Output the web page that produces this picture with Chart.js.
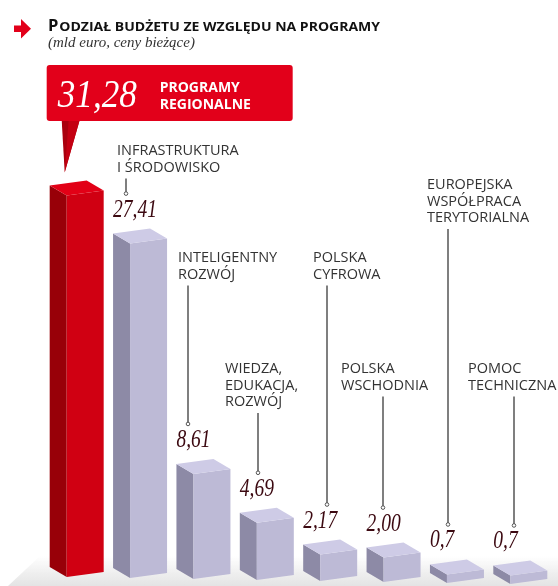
<!DOCTYPE html>
<html><head><meta charset="utf-8">
<script src="https://cdn.jsdelivr.net/npm/chart.js@4/dist/chart.umd.min.js"></script>
<style>html,body{margin:0;padding:0;background:#fff;overflow:hidden}</style>
</head><body>
<canvas id="c" width="558" height="586" style="width:558px;height:586px;display:block"></canvas>
<script>
// ---- data ----
const categories = [
  ["PROGRAMY","REGIONALNE"],
  ["INFRASTRUKTURA","I ŚRODOWISKO"],
  ["INTELIGENTNY","ROZWÓJ"],
  ["WIEDZA,","EDUKACJA,","ROZWÓJ"],
  ["POLSKA","CYFROWA"],
  ["POLSKA","WSCHODNIA"],
  ["EUROPEJSKA","WSPÓŁPRACA","TERYTORIALNA"],
  ["POMOC","TECHNICZNA"]
];
const values = [31.28, 27.41, 8.61, 4.69, 2.17, 2.00, 0.7, 0.7];
const valueLabels = ["31,28","27,41","8,61","4,69","2,17","2,00","0,7","0,7"];
const titleText = "Podział budżetu ze względu na programy";
const subtitleText = "(mld euro, ceny bieżące)";

// ---- layout (annotation positions, not data) ----
const labelX        = [0, 117, 178, 225, 313, 341, 427, 468];
const labelBaseline = [0, 155, 262, 373, 262, 373, 189, 373];
const leaderX       = [0, 126, 188, 258, 327, 383, 448, 514];

// ---- styles ----
const redFaces  = {front:"rgb(208,0,18)", side:"rgb(152,0,8)", top:"rgb(226,0,22)"};
const grayFaces = {front:"rgb(189,186,214)", side:"rgb(141,138,166)", top:"rgb(206,203,230)"};

function poly(ctx, pts, fill){
  ctx.beginPath(); ctx.moveTo(pts[0][0],pts[0][1]);
  for(let k=1;k<pts.length;k++) ctx.lineTo(pts[k][0],pts[k][1]);
  ctx.closePath(); ctx.fillStyle=fill; ctx.fill();
}
function condensedText(ctx, txt, x, y, sx){
  ctx.save(); ctx.translate(x,y); ctx.scale(sx,1); ctx.fillText(txt,0,0); ctx.restore();
}

const boxPlugin = {
  id:'box3d',
  beforeDatasetsDraw(chart){
    const ctx = chart.ctx;
    ctx.save();
    const g = ctx.createLinearGradient(0,556,0,586);
    g.addColorStop(0,'rgba(150,150,150,0)');
    g.addColorStop(0.6,'rgba(150,150,150,0.16)');
    g.addColorStop(1,'rgba(150,150,150,0.26)');
    ctx.beginPath();
    ctx.moveTo(40,556); ctx.lineTo(558,556); ctx.lineTo(558,586); ctx.lineTo(8,586); ctx.closePath();
    ctx.fillStyle=g; ctx.fill();
    ctx.restore();
  },
  afterDatasetsDraw(chart){
    const ctx = chart.ctx;
    const meta = chart.getDatasetMeta(0);
    const geo = [];
    meta.data.forEach((el,i)=>{
      const {x,y,base,width} = el.getProps(['x','y','base','width'],true);
      const drift = i*1.0;
      const left = x - width/2;
      const s = width*0.315, fw = width - s;
      const fx = left + s, fy = y + drift, by = base + drift;
      const c = i===0 ? redFaces : grayFaces;
      poly(ctx, [[fx-s,fy-10],[fx,fy],[fx,by],[fx-s,by-10]], c.side);
      poly(ctx, [[fx,fy],[fx+fw,fy-5],[fx+fw,by-5],[fx,by]], c.front);
      poly(ctx, [[fx-s,fy-10],[fx-s+fw,fy-15],[fx+fw,fy-5],[fx,fy]], c.top);
      geo.push({left, fy});
    });

    ctx.save();
    ctx.textBaseline='alphabetic';
    for(let i=1;i<values.length;i++){
      const gg = geo[i];
      const vb = gg.fy - 27;
      ctx.fillStyle='#3c0911';
      ctx.font='italic 25px "Liberation Serif"';
      condensedText(ctx, valueLabels[i], gg.left, vb, 0.78);
      ctx.fillStyle='#333';
      ctx.font='14.5px "Open Sans"';
      const lines = categories[i];
      lines.forEach((t,k)=>ctx.fillText(t, labelX[i], labelBaseline[i]+k*16.5));
      const lastB = labelBaseline[i] + (lines.length-1)*16.5;
      const y0 = lastB + 7, y1 = vb - 24;
      ctx.strokeStyle='#555'; ctx.lineWidth=1.5;
      ctx.beginPath(); ctx.moveTo(leaderX[i], y0); ctx.lineTo(leaderX[i], y1); ctx.stroke();
      ctx.beginPath(); ctx.arc(leaderX[i], y1+1, 1.8, 0, Math.PI*2);
      ctx.fillStyle='#fff'; ctx.fill(); ctx.lineWidth=1; ctx.stroke();
    }
    ctx.restore();

    // callout for first bar
    ctx.save();
    const b0 = geo[0];
    const cx0 = b0.left - 3, cy0 = 65, cw = 246, ch = 56;
    poly(ctx, [[cx0+15,cy0+ch-1],[cx0+33,cy0+ch-1],[b0.left+15, b0.fy-23]], 'rgb(170,0,14)');
    poly(ctx, [[cx0+22,cy0+ch-1],[cx0+33,cy0+ch-1],[b0.left+15, b0.fy-23]], 'rgb(196,0,18)');
    ctx.beginPath();
    if (ctx.roundRect) ctx.roundRect(cx0,cy0,cw,ch,3); else ctx.rect(cx0,cy0,cw,ch);
    ctx.fillStyle='rgb(226,0,26)'; ctx.fill();
    ctx.fillStyle='#fff';
    ctx.font='italic 40px "Liberation Serif"';
    condensedText(ctx, valueLabels[0], cx0+11, cy0+42, 0.88);
    ctx.font='bold 14px "Open Sans"';
    ctx.fillText(categories[0][0], cx0+113, cy0+27);
    ctx.fillText(categories[0][1], cx0+113, cy0+44);
    ctx.restore();

    // title
    ctx.save();
    poly(ctx, [[14,25.5],[21,25.5],[21,19],[31,28.7],[21,38.5],[21,32],[14,32]], 'rgb(226,0,26)');
    ctx.fillStyle='#111';
    const up = titleText.toUpperCase();
    ctx.font='bold 16.5px "Open Sans"';
    ctx.fillText(up[0], 48, 31);
    const w0 = ctx.measureText(up[0]).width;
    ctx.font='bold 13px "Open Sans"';
    const rest = up.slice(1);
    const rw = ctx.measureText(rest).width;
    const target = 380 - 48 - w0 - 1;
    condensedText(ctx, rest, 48 + w0 + 1, 31, target/rw);
    ctx.fillStyle='#333';
    ctx.font='italic 15px "Liberation Serif"';
    ctx.fillText(subtitleText, 48, 47);
    ctx.restore();
  }
};

new Chart(document.getElementById('c'), {
  type:'bar',
  data:{
    labels: categories,
    datasets:[{data: values, backgroundColor:'rgba(0,0,0,0)', borderWidth:0,
      barPercentage:0.852, categoryPercentage:1}]
  },
  options:{
    responsive:false, animation:false, devicePixelRatio:1,
    layout:{padding:{left:45,right:6,top:89,bottom:9}},
    plugins:{legend:{display:false}, tooltip:{enabled:false}, title:{display:false}},
    events:[],
    scales:{
      x:{display:false},
      y:{display:false, min:0, max:40}
    }
  },
  plugins:[boxPlugin]
});
</script>
</body></html>
